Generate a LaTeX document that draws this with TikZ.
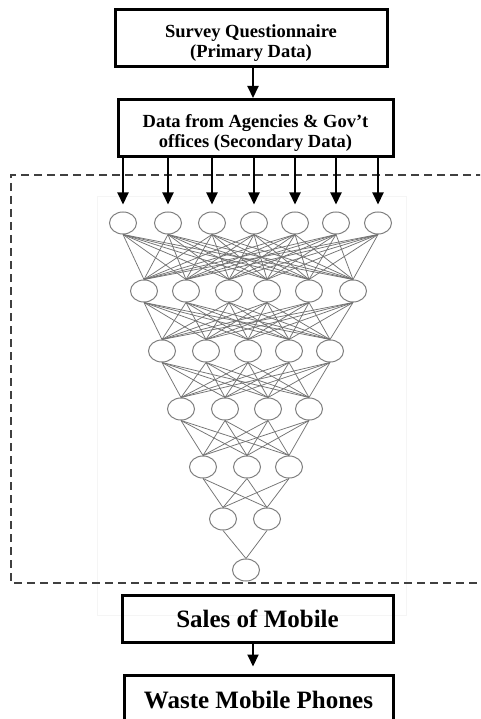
\documentclass[tikz,border=0pt]{standalone}
\usepackage{fontspec}
\setmainfont{Liberation Serif}
\usetikzlibrary{arrows.meta,shapes.geometric}
\tikzset{
  box/.style={draw=black, line width=3pt, rectangle, inner sep=0pt},
  smalltxt/.style={font=\fontsize{18.5}{20}\selectfont\bfseries, align=center, inner sep=0pt},
  bigtxt/.style={font=\fontsize{25}{28}\selectfont\bfseries, align=center},
  arr/.style={line width=2pt, -{Triangle[length=12pt,width=11pt]}},
  neuron/.style={draw=black!50, line width=1pt, ellipse, minimum width=27pt, minimum height=22pt, inner sep=0pt},
  edge/.style={draw=black!55, line width=0.75pt},
  dashbox/.style={draw=black!75, line width=2pt, dash pattern=on 8pt off 5pt},
  faint/.style={draw=black!4, line width=0.8pt}
}
\begin{document}
\begin{tikzpicture}[x=1pt,y=-1pt]
\useasboundingbox (0,0) rectangle (480,719);
\clip (0,0) rectangle (480,719);
\fill[white] (0,0) rectangle (480,719);
% faint background of the network picture
\draw[faint] (97,196) rectangle (406,615);
% top boxes
\node[box, minimum width=272pt, minimum height=57pt] (b1) at (251,38.5) {};
\node[smalltxt] (t1) at ([yshift=-4.5pt]b1.center) {Survey Questionnaire\\(Primary Data)};
\node[box, minimum width=275pt, minimum height=57pt] (b2) at (255.5,128) {};
\node[smalltxt] (t2) at ([yshift=-5pt]b2.center) {Data from Agencies \& Gov’t\\offices (Secondary Data)};
\coordinate (cx) at (253,0);
\draw[arr] (b1.south -| cx) -- (b2.north -| cx);
% dashed frame
\draw[dashbox] (484,175) -- (11,175) -- (11,583) -- (484,583);
% neurons
\foreach \x [count=\i] in {123,168,212,254,295,336,378} \node[neuron] (n1-\i) at (\x,223) {};
\foreach \x [count=\i] in {144,186,229,267,309,353} \node[neuron] (n2-\i) at (\x,291) {};
\foreach \x [count=\i] in {162,206,248,289,330} \node[neuron] (n3-\i) at (\x,351) {};
\foreach \x [count=\i] in {181,225,268,309} \node[neuron] (n4-\i) at (\x,409) {};
\foreach \x [count=\i] in {203,247,289} \node[neuron] (n5-\i) at (\x,467) {};
\foreach \x [count=\i] in {223,267} \node[neuron] (n6-\i) at (\x,519) {};
\node[neuron] (n7-1) at (246,570) {};
% connections
\foreach \a/\na/\nb in {1/7/6,2/6/5,3/5/4,4/4/3,5/3/2,6/2/1}{
  \pgfmathtruncatemacro\bb{\a+1}
  \foreach \i in {1,...,\na}{
    \foreach \j in {1,...,\nb}{
      \draw[edge] (n\a-\i.south) -- (n\bb-\j.north);
    }
  }
}
% input arrows
\foreach \i in {1,...,7}{
  \draw[arr] (b2.south -| n1-\i) -- ([yshift=7pt]n1-\i.north);
}
% bottom boxes
\node[box, bigtxt, minimum width=271pt, minimum height=47pt] (b3) at (257.5,618.5) {Sales of Mobile};
\node[box, bigtxt, minimum width=269pt, minimum height=50pt] (b4) at (258.5,700) {Waste Mobile Phones};
\draw[arr] (b3.south -| cx) -- ([yshift=7pt]b4.north -| cx);
\end{tikzpicture}
\end{document}
